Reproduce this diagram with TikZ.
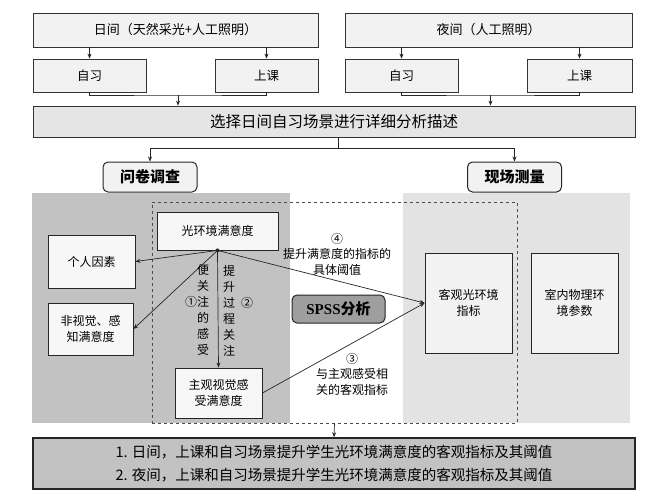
\documentclass[tikz,border=0pt]{standalone}
\usepackage{fontspec}
\setmainfont{Noto Sans CJK SC}
\newfontfamily\spssfont{Liberation Serif}
\usetikzlibrary{arrows.meta}
\begin{document}
\begin{tikzpicture}[x=1pt,y=-1pt,
  topbox/.style={draw=black!80,line width=0.8pt,fill=black!5,minimum height=34pt,font=\fontsize{13}{15}\selectfont},
  subbox/.style={draw=black!80,line width=0.8pt,fill=black!5,minimum height=33pt,font=\fontsize{12.5}{15}\selectfont},
  midbox/.style={draw=black!85,line width=0.9pt,fill=black!3,align=center,inner sep=1pt,font=\fontsize{12}{15.5}\selectfont},
  tagbox/.style={draw=black!85,line width=1pt,rounded corners=5pt,fill=black!5,minimum width=94pt,minimum height=30pt,font=\fontsize{15}{17}\selectfont\bfseries},
  note/.style={align=center,inner sep=0pt,font=\fontsize{12}{15.5}\selectfont},
  arr/.style={-{Stealth[length=5pt,width=4pt]},line width=0.7pt,draw=black!85},
  link/.style={line width=0.7pt,draw=black!85}]
\useasboundingbox (0,0) rectangle (659,503);
\fill[black!24] (32,193) rectangle (290,423);
\fill[black!11] (403,193) rectangle (630,423);

\node[topbox,minimum width=285pt] (day) at (175.5,30) {日间（天然采光+人工照明）};
\node[topbox,minimum width=287pt] (night) at (488.5,30) {夜间（人工照明）};
\node[subbox,minimum width=113pt] (dstudy) at (89.5,75.5) {自习};
\node[subbox,minimum width=103pt] (dclass) at (266.5,75.5) {上课};
\node[subbox,minimum width=113pt] (nstudy) at (401.5,75.5) {自习};
\node[subbox,minimum width=105pt] (nclass) at (579.5,75.5) {上课};
\node[subbox,minimum width=602pt,minimum height=31pt,fill=black!10,font=\fontsize{15.5}{17}\selectfont] (select) at (334,121.5) {选择日间自习场景进行详细分析描述};

\draw[arr] (day.south -| dstudy) -- (dstudy.north);
\draw[arr] (day.south -| dclass) -- (dclass.north);
\draw[arr] (night.south -| nstudy) -- (nstudy.north);
\draw[arr] (night.south -| nclass) -- (nclass.north);
\coordinate (dj) at (178,95);
\coordinate (nj) at (490.5,95);
\draw[link] (dstudy.south) |- (dj) -| (dclass.south);
\draw[link] (nstudy.south) |- (nj) -| (nclass.south);
\draw[arr] (dj) -- (dj |- select.north);
\draw[arr] (nj) -- (nj |- select.north);

\node[tagbox] (survey) at (150,177) {问卷调查};
\node[tagbox] (measure) at (514.5,177) {现场测量};
\coordinate (sj) at (338,148);
\draw[link] (select.south -| sj) -- (sj);
\draw[arr] (sj) -| (survey.north);
\draw[arr] (sj) -| (measure.north);

\node[draw=black!70,dashed,line width=0.8pt,minimum width=365pt,minimum height=221pt] (analysis) at (334.5,312.5) {};

\node[midbox,minimum width=121pt,minimum height=38pt] (sat) at (217.5,231) {光环境满意度};
\node[midbox,minimum width=87pt,minimum height=53pt] (pers) at (91.5,261.5) {个人因素};
\node[midbox,minimum width=85pt,minimum height=52pt] (nonvis) at (90.5,329) {非视觉、感\\知满意度};
\node[midbox,minimum width=87pt,minimum height=50pt] (subj) at (218.5,393) {主观视觉感\\受满意度};
\node[midbox,minimum width=87pt,minimum height=100pt,fill=black!5] (obj) at (468.5,303) {客观光环境\\指标};
\node[midbox,minimum width=87pt,minimum height=100pt,fill=black!5] (phys) at (574.5,303) {室内物理环\\境参数};
\node[tagbox,minimum width=93pt,minimum height=28pt,fill=black!38] (spss) at (338.5,309) {{\spssfont SPSS}分析};

\draw[arr] (sat.south) -- (pers.east);
\draw[arr] (sat.south) -- (nonvis.east);
\draw[arr] (sat.south) -- (subj.north);
\draw[arr] (sat.south) -- (obj.west);
\draw[arr] (subj.east) -- (obj.west);
\fill[black!85] (sat.south) circle (2pt);

\node[note] (lbfour) at (337,254) {④\\提升满意度的指标的\\具体阈值};
\node[note] (lbthree) at (352,374) {③\\与主观感受相\\关的客观指标};
\node[note,font=\fontsize{12}{16}\selectfont] (colone) at (203,310) {便\\关\\注\\的\\感\\受};
\node[note,font=\fontsize{12}{16}\selectfont] (coltwo) at (229,311) {提\\升\\过\\程\\关\\注};
\node[note] (lbone) at (191,302) {①};
\node[note] (lbtwo) at (247,303) {②};

\node[draw=black!85,line width=1.5pt,fill=black!24,minimum width=602pt,minimum height=51pt,align=center,font=\fontsize{14.5}{23}\selectfont] (result) at (334,463.5) {1. 日间，上课和自习场景提升学生光环境满意度的客观指标及其阈值\\2. 夜间，上课和自习场景提升学生光环境满意度的客观指标及其阈值};
\draw[arr] (analysis.south) -- (result.north);
\end{tikzpicture}
\end{document}
